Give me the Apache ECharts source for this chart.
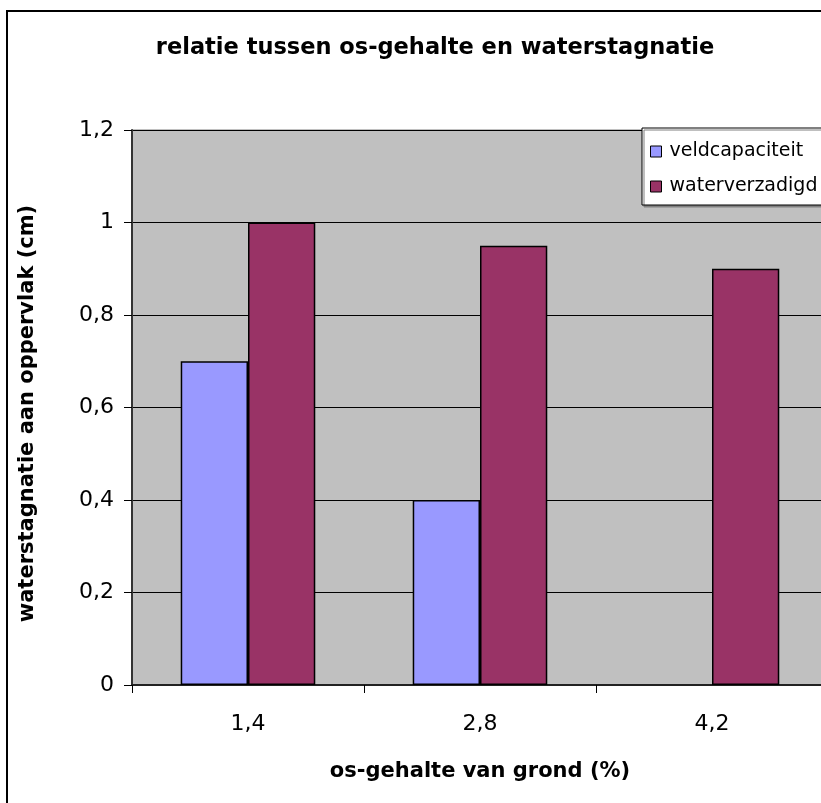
<!DOCTYPE html>
<html>
<head>
<meta charset="utf-8">
<script src="https://cdn.jsdelivr.net/npm/echarts@6/dist/echarts.min.js"></script>
<style>
html, body { margin: 0; padding: 0; width: 821px; height: 803px; overflow: hidden; background: #fff; }
#chart { position: absolute; left: 0; top: 0; width: 870px; height: 840px; }
</style>
</head>
<body>
<div id="chart"></div>
<script>
const titleText = 'relatie tussen os-gehalte en waterstagnatie';
const categories = ['1,4', '2,8', '4,2'];
const seriesNames = ['veldcapaciteit', 'waterverzadigd'];
const veldcapaciteit = [0.7, 0.4, null];
const waterverzadigd = [1.0, 0.95, 0.9];
const yMin = 0, yMax = 1.2, yStep = 0.2;
const xName = 'os-gehalte van grond (%)';
const yName = 'waterstagnatie aan oppervlak (cm)';

const FONT = 'DejaVu Sans';
const chart = echarts.init(document.getElementById('chart'), null, { renderer: 'canvas' });
chart.setOption({
  animation: false,
  backgroundColor: '#ffffff',
  textStyle: { fontFamily: FONT, color: '#000' },
  graphic: [{
    type: 'rect', z: 100, silent: true,
    shape: { x: 7, y: 11, width: 856, height: 818 },
    style: { fill: 'none', stroke: '#000', lineWidth: 2 }
  }],
  title: {
    text: titleText, left: 'center', top: 32,
    textStyle: { fontFamily: FONT, fontWeight: 'bold', fontSize: 22.5, color: '#000' }
  },
  legend: {
    orient: 'vertical', left: 642, top: 128,
    backgroundColor: '#fff', borderColor: '#000', borderWidth: 1,
    shadowColor: '#808080', shadowOffsetX: 2, shadowOffsetY: 2, shadowBlur: 0,
    padding: [14, 60, 9, 8], itemGap: 16, itemWidth: 11, itemHeight: 11,
    icon: 'rect',
    itemStyle: { borderColor: '#000', borderWidth: 1 },
    textStyle: { fontFamily: FONT, fontSize: 19, color: '#000', padding: [0, 0, 0, 3] },
    data: seriesNames
  },
  grid: {
    left: 132, top: 130, width: 696, height: 555,
    show: true, backgroundColor: '#C0C0C0', borderColor: '#808080', borderWidth: 1
  },
  xAxis: {
    type: 'category', data: categories,
    name: xName, nameLocation: 'middle', nameGap: 76,
    nameTextStyle: { fontFamily: FONT, fontWeight: 'bold', fontSize: 21, color: '#000' },
    axisLine: { show: true, lineStyle: { color: '#222', width: 2 } },
    axisTick: { show: true, alignWithLabel: false, length: 8, lineStyle: { color: '#000', width: 1 } },
    axisLabel: { margin: 28, fontFamily: FONT, fontSize: 22, color: '#000' },
    splitLine: { show: false }
  },
  yAxis: {
    type: 'value', min: yMin, max: yMax, interval: yStep,
    name: yName, nameLocation: 'middle', nameGap: 94, nameRotate: 90,
    nameTextStyle: { fontFamily: FONT, fontWeight: 'bold', fontSize: 21, color: '#000', padding: [0, 12, 0, 0] },
    axisLine: { show: true, lineStyle: { color: '#333', width: 2 } },
    axisTick: { show: true, length: 8, lineStyle: { color: '#000', width: 1 } },
    axisLabel: {
      margin: 18, fontFamily: FONT, fontSize: 22, color: '#000',
      formatter: v => String(Number(v.toFixed(1))).replace('.', ',')
    },
    splitLine: { show: true, lineStyle: { color: '#000', width: 1 } }
  },
  series: [{
    name: seriesNames[0], type: 'bar', data: veldcapaciteit,
    barGap: '0%', barCategoryGap: '42%',
    itemStyle: { color: '#9999FF', borderColor: '#000', borderWidth: 1.5 }
  }, {
    name: seriesNames[1], type: 'bar', data: waterverzadigd,
    barGap: '0%', barCategoryGap: '42%',
    itemStyle: { color: '#993366', borderColor: '#000', borderWidth: 1.5 }
  }]
});
</script>
</body>
</html>
